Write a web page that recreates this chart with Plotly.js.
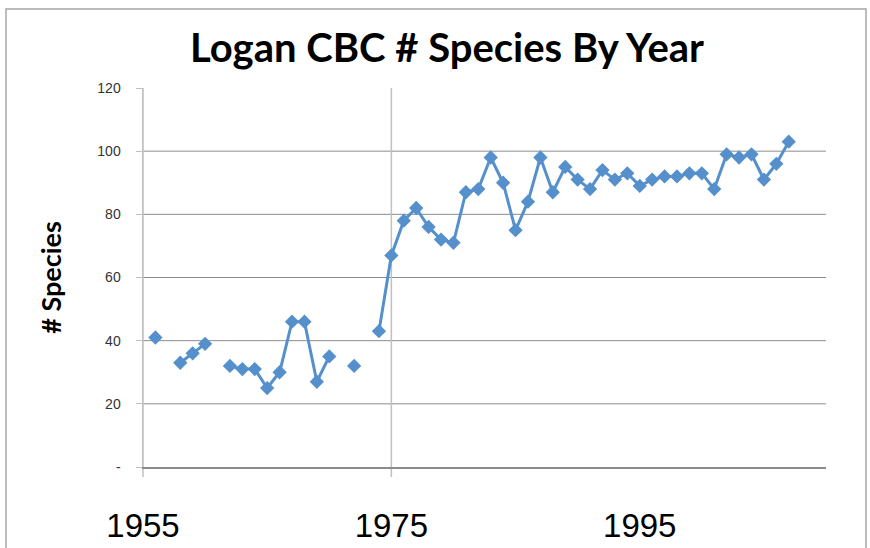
<!DOCTYPE html>
<html>
<head>
<meta charset="utf-8">
<script src="https://cdn.plot.ly/plotly-3.0.1.min.js"></script>
<style>
  html, body { margin: 0; padding: 0; background: #ffffff; }
  #chart { width: 870px; height: 548px; }
</style>
</head>
<body>
<div id="chart"></div>
<script>
// ---- data ----
const years = [1956,1957,1958,1959,1960,1961,1962,1963,1964,1965,
               1966,1967,1968,1969,1970,1971,1972,1973,1974,1975,
               1976,1977,1978,1979,1980,1981,1982,1983,1984,1985,
               1986,1987,1988,1989,1990,1991,1992,1993,1994,1995,
               1996,1997,1998,1999,2000,2001,2002,2003,2004,2005,
               2006,2007];
const species = [41,null,33,36,39,null,32,31,31,25,
                 30,46,46,27,35,null,32,null,43,67,
                 78,82,76,72,71,87,88,98,90,75,
                 84,98,87,95,91,88,94,91,93,89,
                 91,92,92,93,93,88,99,98,99,91,
                 96,103];
const xTickVals = [1955, 1975, 1995];
const xTickText = ['1955', '1975', '1995'];
const yTickVals = [0, 20, 40, 60, 80, 100, 120];
const yTickText = ['-', '20', '40', '60', '80', '100', '120'];
const gridVals = [20, 40, 60, 80, 100];
const markerYear = 1975;

// ---- layout geometry ----
const W = 870, H = 548;
const M = {l: 143, r: 44, t: 88, b: 81};
const pw = W - M.l - M.r, ph = H - M.t - M.b;
const px = v => (v - M.l) / pw;          // pixel -> paper x
const py = v => (H - M.b - v) / ph;      // pixel -> paper y

const shapes = [];
gridVals.forEach(g => shapes.push({
  type: 'line', xref: 'paper', yref: 'y', x0: 0, x1: 1, y0: g, y1: g,
  line: {color: '#8c8c8c', width: 1}, layer: 'below'
}));
// vertical line at 1975 (extends below axis like a tick)
shapes.push({type: 'line', xref: 'x', yref: 'paper', x0: markerYear, x1: markerYear,
  y0: py(477), y1: 1, line: {color: '#c0c0c0', width: 1.5}, layer: 'below'});
// y-axis line extension below x axis
shapes.push({type: 'line', xref: 'paper', yref: 'paper', x0: 0, x1: 0,
  y0: py(477), y1: 1, line: {color: '#c0c0c0', width: 1.5}, layer: 'below'});
// outer chart border
shapes.push({type: 'rect', xref: 'paper', yref: 'paper',
  x0: px(6), x1: px(866), y0: py(560), y1: py(9),
  line: {color: '#a6a6a6', width: 1.5}, fillcolor: 'rgba(0,0,0,0)', layer: 'below'});

const trace = {
  x: years, y: species, type: 'scatter', mode: 'lines+markers',
  connectgaps: false,
  line: {color: '#5590cc', width: 3},
  marker: {symbol: 'diamond', size: 11, color: '#5590cc'},
  hoverinfo: 'x+y'
};

const layout = {
  width: W, height: H,
  margin: M,
  paper_bgcolor: '#ffffff', plot_bgcolor: '#ffffff',
  showlegend: false,
  title: {
    text: '<b>Logan CBC # Species By Year</b>',
    font: {family: 'Lato, "Open Sans", sans-serif', size: 40, color: '#000000'},
    xref: 'container', yref: 'container', x: 447 / W, xanchor: 'center',
    y: 1 - 48 / H, yanchor: 'middle'
  },
  xaxis: {
    range: [1955, 2010], tickmode: 'array', tickvals: xTickVals, ticktext: xTickText,
    showgrid: false, zeroline: false,
    showline: true, linecolor: '#8c8c8c', linewidth: 1.5,
    ticks: '', ticklabelstandoff: 29,
    tickfont: {family: '"Liberation Sans", Arial, sans-serif', size: 33, color: '#000000'}
  },
  yaxis: {
    range: [0, 120], tickmode: 'array', tickvals: yTickVals, ticktext: yTickText,
    showgrid: false, zeroline: false,
    showline: true, linecolor: '#c0c0c0', linewidth: 1.5,
    ticks: 'outside', ticklen: 6, tickcolor: '#c0c0c0', tickwidth: 1,
    ticklabelstandoff: 12,
    tickfont: {family: '"Liberation Sans", Arial, sans-serif', size: 14, color: '#333333'},
    title: {
      text: '<b># Species</b>', standoff: 28,
      font: {family: 'Lato, "Open Sans", sans-serif', size: 27, color: '#000000'}
    }
  },
  shapes: shapes
};

Plotly.newPlot('chart', [trace], layout, {displayModeBar: false, staticPlot: true});
</script>
</body>
</html>
